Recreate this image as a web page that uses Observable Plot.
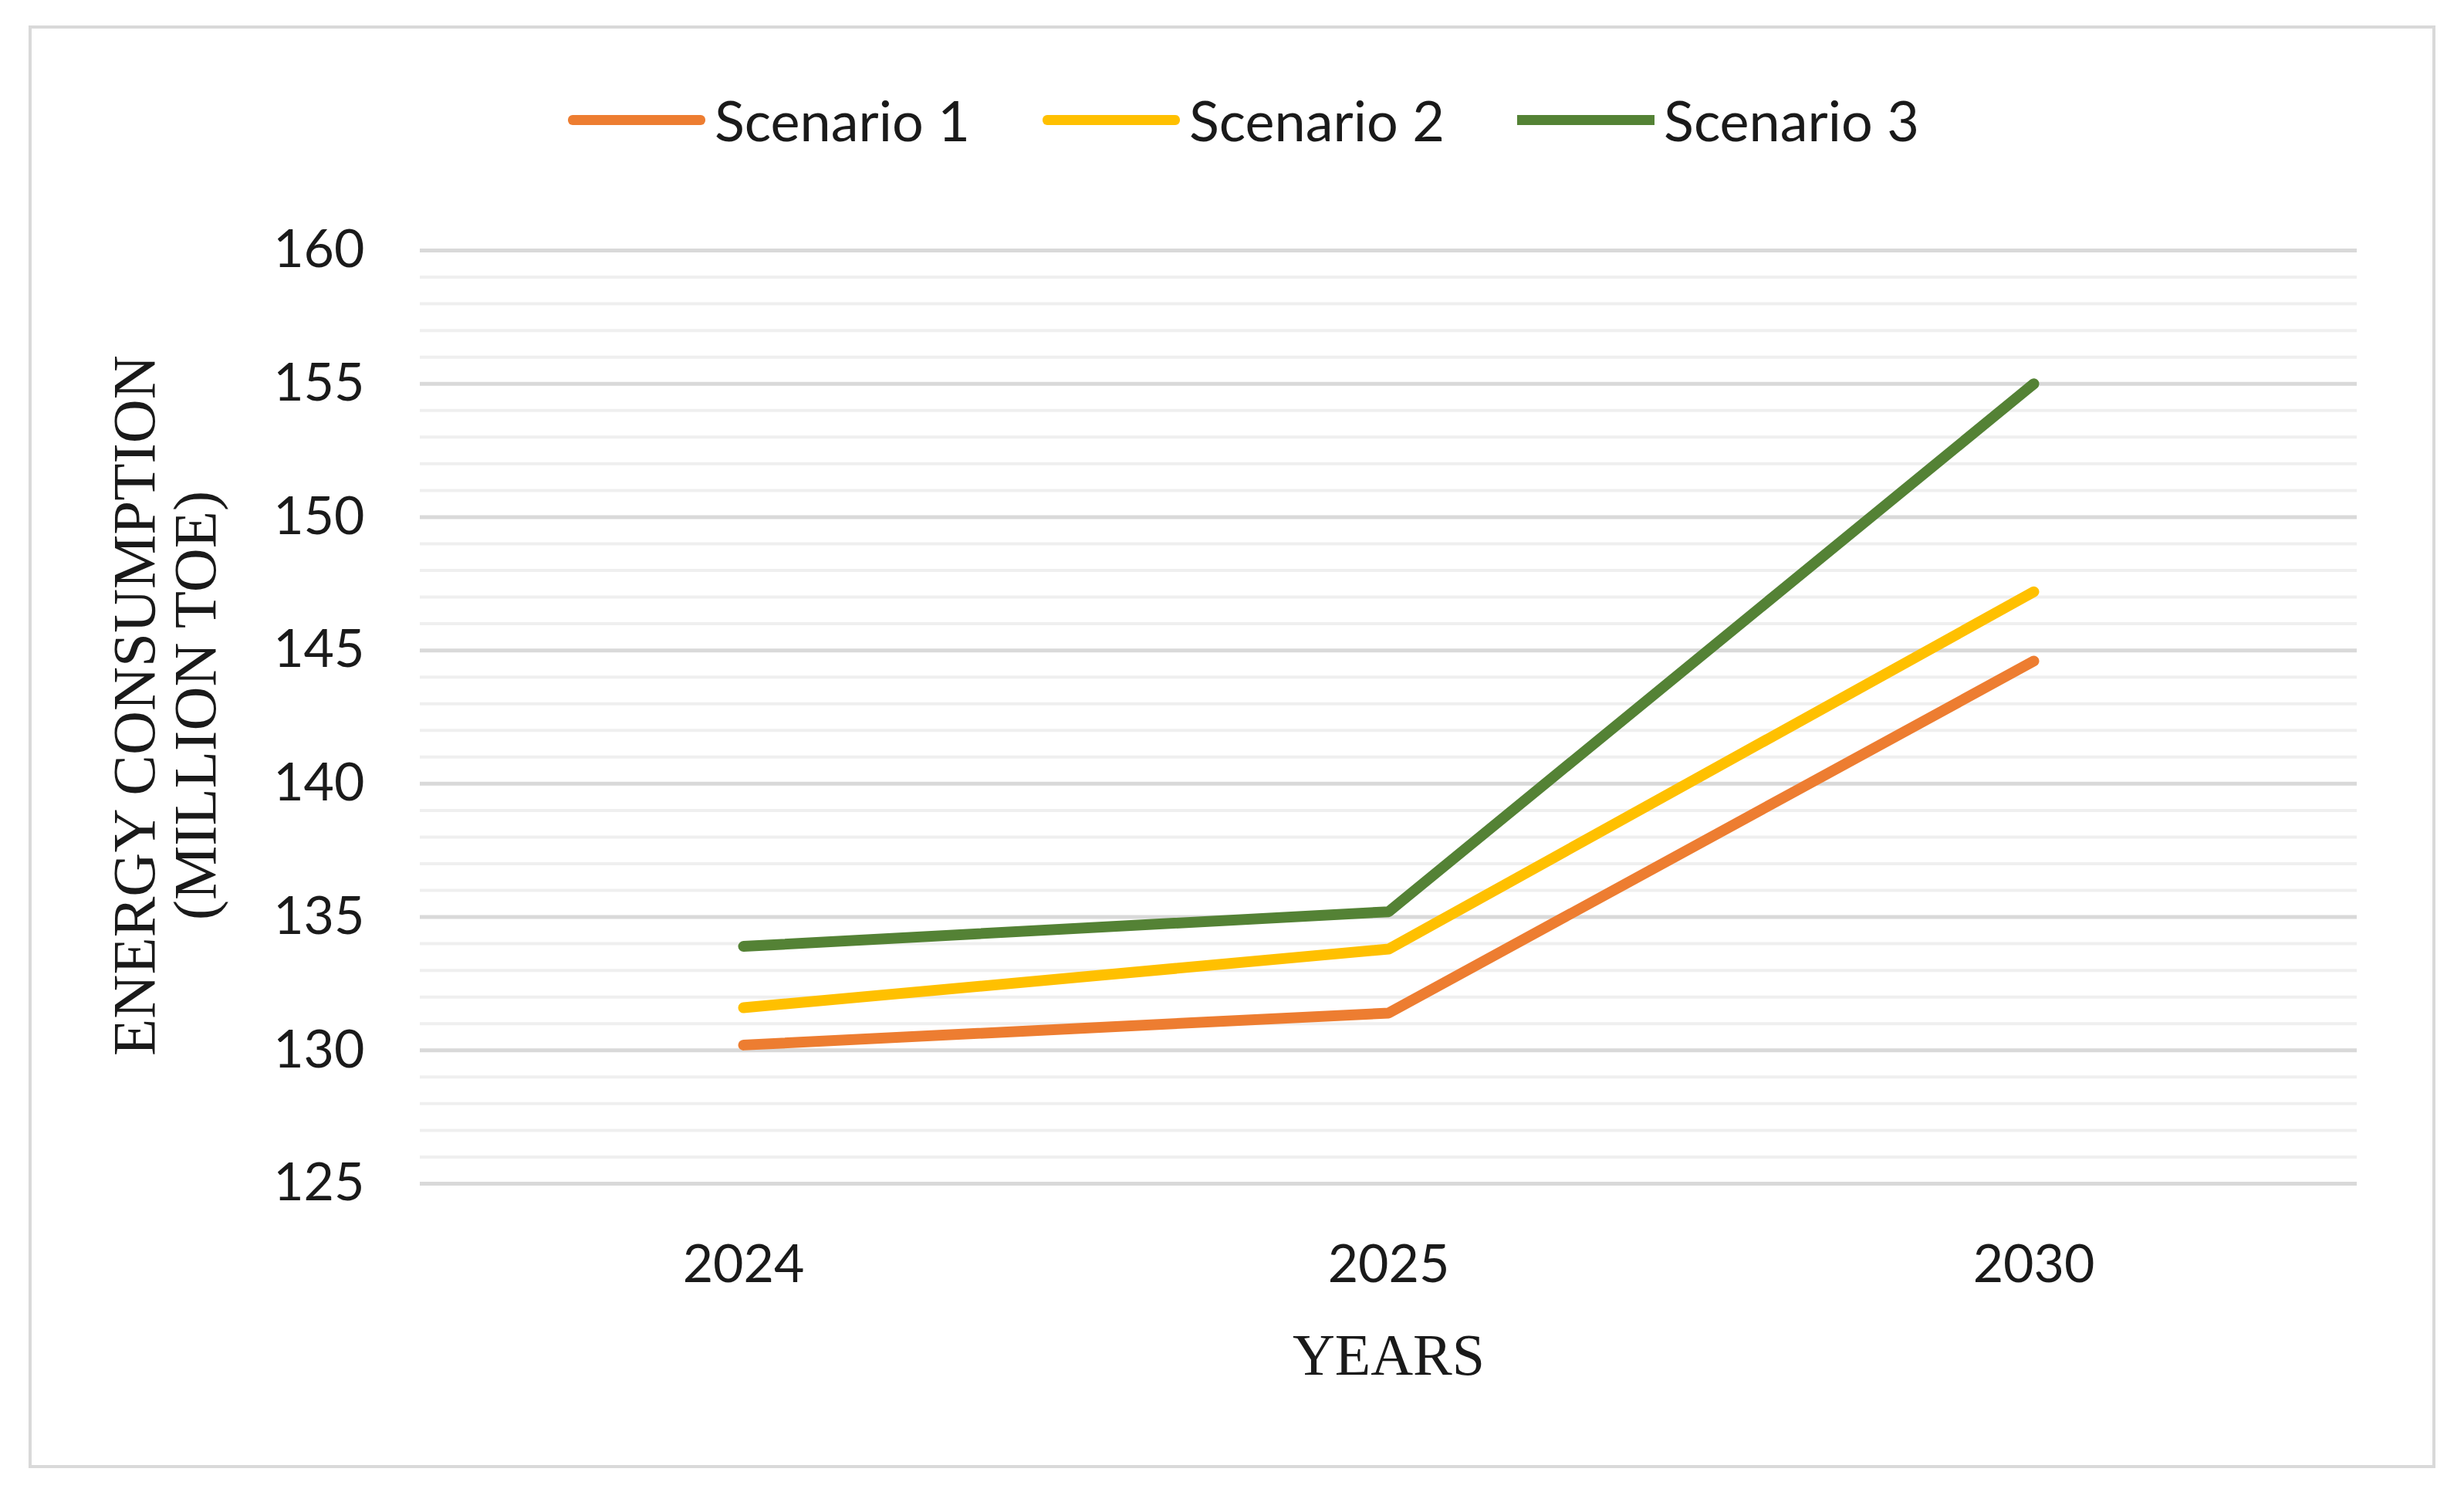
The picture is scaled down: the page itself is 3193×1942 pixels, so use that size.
<!DOCTYPE html>
<html>
<head>
<meta charset="utf-8">
<script src="https://cdn.jsdelivr.net/npm/d3@7"></script>
<script src="https://cdn.jsdelivr.net/npm/@observablehq/plot@0.6"></script>
<style>
  html, body { margin: 0; padding: 0; background: #fff; }
  #wrap { position: relative; width: 3193px; height: 1942px; overflow: hidden; background: #fff; }
  #legend { height: 190px; padding-top: 60px; padding-left: 30px; display: flex; justify-content: center; align-items: center; gap: 94px;
            font-family: Lato, "Open Sans", sans-serif; font-size: 72px; color: #1a1a1a; }
  .item { display: flex; align-items: center; }
  .sw { display: inline-block; width: 178px; height: 13px; margin-right: 12px; border-radius: 6px; }
  #frame { position: absolute; left: 37px; top: 33px; width: 3111px; height: 1861px; border: 4px solid #d9d9d9; pointer-events: none; }
  #chart svg { display: block; overflow: visible; }
</style>
</head>
<body>
<div id="wrap">
  <div id="legend"></div>
  <div id="chart"></div>
  <div id="frame"></div>
</div>
<script>
const years = ["2024", "2025", "2030"];
const seriesNames = ["Scenario 1", "Scenario 2", "Scenario 3"];
const seriesColors = ["#ED7D31", "#FFC000", "#548235"];
const scenario1 = [130.2, 131.4, 144.6];
const scenario2 = [131.6, 133.8, 147.2];
const scenario3 = [133.9, 135.2, 155.0];
const yTicks = [125, 130, 135, 140, 145, 150, 155, 160];
const minorTicks = d3.range(125, 161, 1);
const yTitle = "ENERGY CONSUMPTION\n(MILLION TOE)";
const xTitle = "YEARS";

const seriesValues = [scenario1, scenario2, scenario3];
const data = seriesNames.flatMap((name, s) =>
  years.map((yr, i) => ({ year: yr, value: seriesValues[s][i], series: name }))
);

// Legend (HTML, above the SVG)
const legend = document.getElementById("legend");
seriesNames.forEach((name, i) => {
  const item = document.createElement("div");
  item.className = "item";
  const sw = document.createElement("span");
  sw.className = "sw";
  sw.style.background = seriesColors[i];
  if (i === 2) sw.style.borderRadius = "0";
  const label = document.createElement("span");
  label.textContent = name;
  item.appendChild(sw);
  item.appendChild(label);
  legend.appendChild(item);
});

const chart = Plot.plot({
  width: 3193,
  height: 1692,
  marginTop: 74,
  marginBottom: 409,
  marginLeft: 544,
  marginRight: 139,
  style: { background: "transparent", fontFamily: "Lato, 'Open Sans', sans-serif", fontSize: "68px", color: "#1a1a1a", overflow: "visible" },
  x: { type: "point", domain: years, padding: 0.5, label: null },
  y: { domain: [125, 160], label: null },
  color: { domain: seriesNames, range: seriesColors },
  marks: [
    Plot.gridY(minorTicks, { stroke: "#efefef", strokeOpacity: 1, strokeWidth: 4 }),
    Plot.gridY(yTicks, { stroke: "#d9d9d9", strokeOpacity: 1, strokeWidth: 5 }),
    Plot.axisY(yTicks, { tickSize: 0, tickPadding: 72, label: null, fontSize: 68 }),
    Plot.axisX({ tickSize: 0, tickPadding: 79, label: null, fontSize: 68 }),
    Plot.line(data, { x: "year", y: "value", stroke: "series", strokeWidth: 14, strokeLinecap: "round", strokeLinejoin: "round" }),
    Plot.text([yTitle], { text: d => d, frameAnchor: "left", textAnchor: "middle", lineAnchor: "middle", rotate: -90, dx: -330, dy: -15,
      fontFamily: "'Liberation Serif', serif", fontSize: 79, lineHeight: 1.0, fill: "#1a1a1a" }),
    Plot.text([xTitle], { text: d => d, frameAnchor: "bottom", textAnchor: "middle", dy: 247,
      fontFamily: "'Liberation Serif', serif", fontSize: 76, fill: "#1a1a1a" })
  ]
});
document.getElementById("chart").appendChild(chart);
</script>
</body>
</html>
